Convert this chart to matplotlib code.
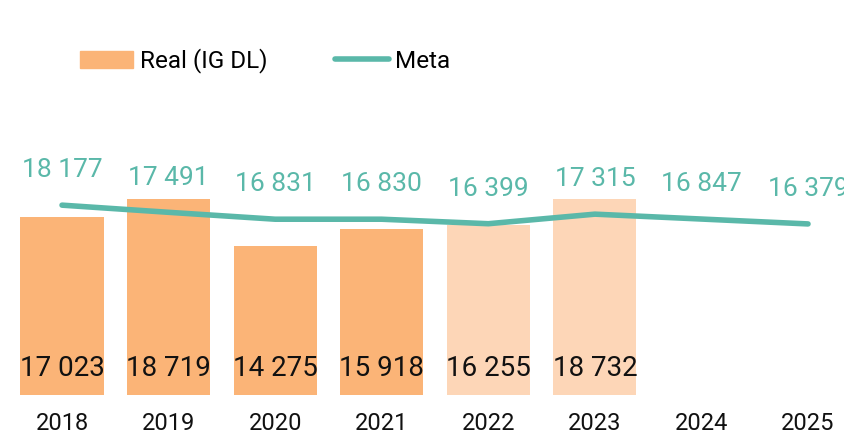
import matplotlib.pyplot as plt
from matplotlib.patches import Patch
from matplotlib.lines import Line2D

plt.rcParams['font.family'] = ['Roboto', 'DejaVu Sans']

years = ['2018', '2019', '2020', '2021', '2022', '2023', '2024', '2025']
real = [17023, 18719, 14275, 15918, 16255, 18732]
meta = [18177, 17491, 16831, 16830, 16399, 17315, 16847, 16379]

orange = '#fbb477'
orange_light = '#fdd6b7'
teal = '#5ab8a9'

def fmt(v):
    return f'{v:,}'.replace(',', ' ')

fig = plt.figure(figsize=(8.45, 4.34), dpi=100)
ax = fig.add_axes([0, 39 / 434, 1, 376 / 434])

x = list(range(len(years)))
bar_colors = [orange] * 4 + [orange_light] * 2
ax.bar(x[:len(real)], real, width=0.78, color=bar_colors, zorder=1)
ax.plot(x, meta, color=teal, lw=4, solid_capstyle='round', zorder=2)

# valores reales dentro de la barra, metas encima de la linea
for i, v in enumerate(real):
    ax.annotate(fmt(v), (i, 0), xytext=(0, 19), textcoords='offset points',
                ha='center', va='center', fontsize=20, color='#111111')
for i, v in enumerate(meta):
    ax.annotate(fmt(v), (i, v), xytext=(0, 25), textcoords='offset points',
                ha='center', va='center', fontsize=19, color=teal)

ax.set_xlim(-0.582, 7.347)
ax.set_ylim(0, 36000)
ax.set_xticks(x)
ax.set_xticklabels(years, fontsize=17, color='#111111')
ax.tick_params(axis='x', length=0, pad=12)
ax.set_yticks([])
for s in ax.spines.values():
    s.set_visible(False)

handles = [Patch(color=orange), Line2D([], [], color=teal, lw=4, solid_capstyle='round')]
fig.legend(handles, ['Real (IG DL)', 'Meta'], loc='center left',
           bbox_to_anchor=(80 / 845, 1 - 61 / 434), ncol=2, frameon=False,
           fontsize=17.5, handlelength=2.2, handletextpad=0.25, columnspacing=2.8,
           borderpad=0, borderaxespad=0)

fig.savefig('out.png', dpi=100)
